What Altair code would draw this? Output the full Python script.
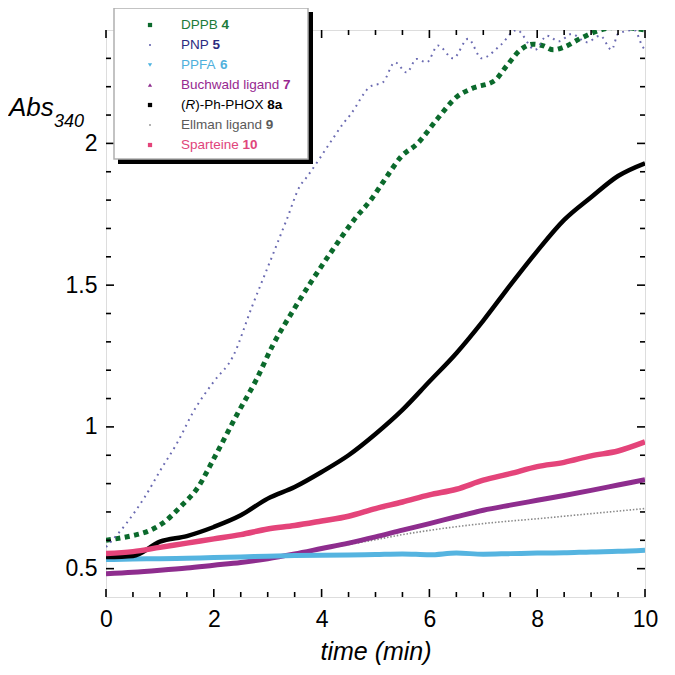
import altair as alt
import pandas as pd

# ---------------- data ----------------
t_grid = [0, 0.5, 1, 1.5, 2, 2.5, 3, 3.5, 4, 4.5, 5, 5.5, 6, 6.5, 7, 7.5, 8, 8.5, 9, 9.5, 10]

t_dppb = [0, 0.5, 0.75, 1.05, 1.38, 1.71, 2.0, 2.44, 2.78, 3.1, 3.47, 3.8, 4.2, 4.6, 4.93, 5.2,
          5.47, 5.78, 6.15, 6.5, 6.82, 7.2, 7.44, 7.69, 7.93, 8.1, 8.3, 8.5, 8.8, 9.17, 9.5, 10]
v_dppb = [0.60, 0.617, 0.63, 0.66, 0.718, 0.788, 0.888, 1.047, 1.163, 1.29, 1.41, 1.51, 1.623, 1.73,
          1.805, 1.88, 1.952, 2.0, 2.087, 2.163, 2.196, 2.22, 2.275, 2.33, 2.35, 2.345, 2.33, 2.34,
          2.37, 2.40, 2.41, 2.40]

t_pnp = [0, 0.38, 0.72, 1.05, 1.31, 1.64, 2.0, 2.36, 2.7, 3.1, 3.35, 3.6, 3.72, 4.22, 4.4, 4.53,
         4.9, 5.14, 5.36, 5.58, 5.76, 5.95, 6.16, 6.44, 6.72, 6.97, 7.31, 7.62, 7.96, 8.18, 8.4,
         8.64, 8.92, 9.17, 9.38, 9.5, 9.8, 9.96, 10]
v_pnp = [0.576, 0.66, 0.753, 0.86, 0.94, 1.06, 1.16, 1.25, 1.42, 1.61, 1.73, 1.85, 1.88, 2.02,
         2.07, 2.10, 2.20, 2.216, 2.286, 2.25, 2.298, 2.286, 2.345, 2.30, 2.369, 2.30, 2.345, 2.40,
         2.33, 2.38, 2.36, 2.386, 2.357, 2.38, 2.33, 2.386, 2.40, 2.34, 2.33]

v_ppfa = [0.532, 0.534, 0.535, 0.537, 0.539, 0.541, 0.544, 0.546, 0.547, 0.548, 0.550, 0.552,
          0.549, 0.555, 0.551, 0.553, 0.555, 0.556, 0.559, 0.561, 0.565]
v_buch = [0.482, 0.487, 0.494, 0.502, 0.512, 0.522, 0.535, 0.552, 0.571, 0.590, 0.612, 0.636,
          0.659, 0.683, 0.706, 0.724, 0.741, 0.758, 0.776, 0.795, 0.814]
v_phox = [0.541, 0.545, 0.595, 0.615, 0.647, 0.688, 0.747, 0.788, 0.841, 0.900, 0.975, 1.06,
          1.16, 1.26, 1.375, 1.50, 1.62, 1.73, 1.81, 1.885, 1.93]
v_ellman = [0.479, 0.484, 0.491, 0.499, 0.509, 0.519, 0.532, 0.549, 0.568, 0.585, 0.602, 0.620,
            0.635, 0.648, 0.659, 0.668, 0.676, 0.685, 0.694, 0.703, 0.712]
v_spart = [0.553, 0.560, 0.575, 0.590, 0.605, 0.620, 0.640, 0.652, 0.668, 0.685, 0.712, 0.735,
           0.760, 0.780, 0.812, 0.835, 0.860, 0.875, 0.898, 0.915, 0.947]

x_ticks_major = [0, 2, 4, 6, 8, 10]
x_ticks_minor = [0.5, 1, 1.5, 2.5, 3, 3.5, 4.5, 5, 5.5, 6.5, 7, 7.5, 8.5, 9, 9.5]
y_ticks_major = [0.5, 1, 1.5, 2]
y_ticks_minor = [0.6, 0.7, 0.8, 0.9, 1.1, 1.2, 1.3, 1.4, 1.6, 1.7, 1.8, 1.9, 2.1, 2.2, 2.3]

legend_parts = [
    [("DPPB ", "n"), ("4", "b")],
    [("PNP ", "n"), ("5", "b")],
    [("PPFA ", "n"), ("6", "b")],
    [("Buchwald ligand ", "n"), ("7", "b")],
    [("(", "n"), ("R", "i"), (")-Ph-PHOX ", "n"), ("8a", "b")],
    [("Ellman ligand ", "n"), ("9", "b")],
    [("Sparteine ", "n"), ("10", "b")],
]
legend_text_colors = ["#1b7a3a", "#2b2b80", "#4fb0dc", "#97288f", "#000000", "#5a5a5a", "#e0457b"]
legend_sym_colors = ["#0b6a2c", "#5a5aa8", "#4cb3e0", "#8e2d8e", "#000000", "#999999", "#e4447a"]
legend_shapes = ["square", "circle", "triangle-down", "triangle-up", "square", "circle", "square"]
legend_sizes = [18, 4, 18, 18, 18, 4, 18]

# ---------------- styling ----------------
W, H = 539, 567
FONT = "Liberation Sans"
xs = alt.Scale(domain=[0, 10], nice=False, zero=False)
ys = alt.Scale(domain=[0.4, 2.4], nice=False, zero=False)
xax = alt.Axis(values=x_ticks_major, ticks=False, domain=False, grid=False, labelFontSize=23,
               labelFont=FONT, labelColor="black", labelPadding=11, labelFlush=False,
               title="time (min)", titleFont=FONT, titleFontSize=25, titleFontStyle="italic",
               titleFontWeight="normal", titleColor="black", titlePadding=8)
yax = alt.Axis(values=y_ticks_major, format="~g", ticks=False, domain=False, grid=False,
               labelFontSize=23, labelFont=FONT, labelColor="black", labelPadding=9,
               labelFlush=False, title=None)


def series(t, v, color, width, dash=None, opacity=1.0):
    df = pd.DataFrame({"t": t, "v": v})
    kw = dict(color=color, strokeWidth=width, clip=True, opacity=opacity, strokeCap="butt",
              interpolate="monotone")
    if dash:
        kw["strokeDash"] = dash
    return alt.Chart(df).mark_line(**kw).encode(
        x=alt.X("t:Q", scale=xs, axis=xax),
        y=alt.Y("v:Q", scale=ys, axis=yax),
    )


lines = [
    series(t_dppb, v_dppb, "#0b6a2c", 5, [5, 4.5]),
    series(t_pnp, v_pnp, "#5a5aa8", 2, [1.8, 4.5], 0.9),
    series(t_grid, v_ellman, "#8a8a8a", 1.6, [1.5, 1.8]),
    series(t_grid, v_buch, "#8e2d8e", 5),
    series(t_grid, v_ppfa, "#55b4e0", 5),
    series(t_grid, v_phox, "#000000", 4.5),
    series(t_grid, v_spart, "#e4447a", 5.5),
]


# inward ticks on all four sides
def xticks(vals, length):
    df = pd.DataFrame({"v": vals})
    bot = alt.Chart(df).mark_rule(color="black", strokeWidth=1.6).encode(
        x=alt.X("v:Q", scale=xs, axis=xax), y=alt.value(H), y2=alt.value(H - length))
    top = alt.Chart(df).mark_rule(color="black", strokeWidth=1.6).encode(
        x=alt.X("v:Q", scale=xs, axis=xax), y=alt.value(0), y2=alt.value(length))
    return [bot, top]


def yticks(vals, length):
    df = pd.DataFrame({"v": vals})
    left = alt.Chart(df).mark_rule(color="black", strokeWidth=1.6).encode(
        y=alt.Y("v:Q", scale=ys, axis=yax), x=alt.value(0), x2=alt.value(length))
    right = alt.Chart(df).mark_rule(color="black", strokeWidth=1.6).encode(
        y=alt.Y("v:Q", scale=ys, axis=yax), x=alt.value(W), x2=alt.value(W - length))
    return [left, right]


ticks = xticks(x_ticks_major, 8) + xticks(x_ticks_minor, 5) + yticks(y_ticks_major, 8) + yticks(y_ticks_minor, 5)

# Abs340 label
abs_lbl = alt.Chart(pd.DataFrame({"a": [0]})).mark_text(
    text="Abs", font=FONT, fontSize=26, fontStyle="italic", align="left", baseline="alphabetic",
    color="black").encode(x=alt.value(-97), y=alt.value(86))
abs_sub = alt.Chart(pd.DataFrame({"a": [0]})).mark_text(
    text="340", font=FONT, fontSize=18, fontStyle="italic", align="left", baseline="alphabetic",
    color="black").encode(x=alt.value(-52), y=alt.value(97))

# legend box
box_shadow = alt.Chart(pd.DataFrame({"a": [0]})).mark_rect(color="black").encode(
    x=alt.value(12), x2=alt.value(207), y=alt.value(-18), y2=alt.value(134))
box = alt.Chart(pd.DataFrame({"a": [0]})).mark_rect(fill="white", stroke="#b0b0b0", strokeWidth=1.5).encode(
    x=alt.value(8), x2=alt.value(202), y=alt.value(-22), y2=alt.value(129))

AW = {' ': 278, '(': 333, ')': 333, '-': 333, 'A': 667, 'B': 667, 'C': 722, 'D': 722, 'E': 667,
      'F': 611, 'H': 722, 'L': 556, 'N': 722, 'O': 778, 'P': 667, 'R': 722, 'S': 667, 'X': 667,
      'a': 556, 'b': 556, 'c': 500, 'd': 556, 'e': 556, 'g': 556, 'h': 556, 'i': 222, 'l': 222,
      'm': 833, 'n': 556, 'p': 556, 'r': 333, 't': 278, 'u': 556, 'w': 722}
LFS = 13.5


def tw(s):
    return sum(AW.get(c, 556) for c in s) * LFS / 1000.0


seg_rows = []
sym_rows = []
for i, parts in enumerate(legend_parts):
    ly = -5 + 20 * i
    sym_rows.append({"lx": 44, "ly": ly, "shape": legend_shapes[i], "color": legend_sym_colors[i],
                     "size": legend_sizes[i]})
    xo = 75.0
    for txt, st in parts:
        seg_rows.append({"lx": xo, "ly": ly, "txt": txt, "st": st, "color": legend_text_colors[i]})
        xo += tw(txt)
seg_df = pd.DataFrame(seg_rows)
sym_df = pd.DataFrame(sym_rows)

leg_syms = alt.Chart(sym_df).mark_point(filled=True, opacity=1).encode(
    x=alt.X("lx:Q", scale=None), y=alt.Y("ly:Q", scale=None),
    shape=alt.Shape("shape:N", scale=None), color=alt.Color("color:N", scale=None),
    size=alt.Size("size:Q", scale=None))


def leg_text(style, weight, fstyle):
    return alt.Chart(seg_df[seg_df["st"] == style]).mark_text(
        font=FONT, fontSize=LFS, fontWeight=weight, fontStyle=fstyle, align="left",
        baseline="middle").encode(
        x=alt.X("lx:Q", scale=None), y=alt.Y("ly:Q", scale=None), text="txt:N",
        color=alt.Color("color:N", scale=None))


leg_texts = [leg_text("n", "normal", "normal"), leg_text("b", "bold", "normal"),
             leg_text("i", "normal", "italic")]

chart = alt.layer(*lines, *ticks, abs_lbl, abs_sub, box_shadow, box, leg_syms, *leg_texts).properties(
    width=W, height=H,
    autosize=alt.AutoSizeParams(type="none"),
    padding={"left": 98, "top": 22, "right": 20, "bottom": 74},
).configure_view(stroke="black", strokeWidth=2).configure(background="white")

chart.save("out.html", embed_options={"renderer": "svg", "actions": False})
